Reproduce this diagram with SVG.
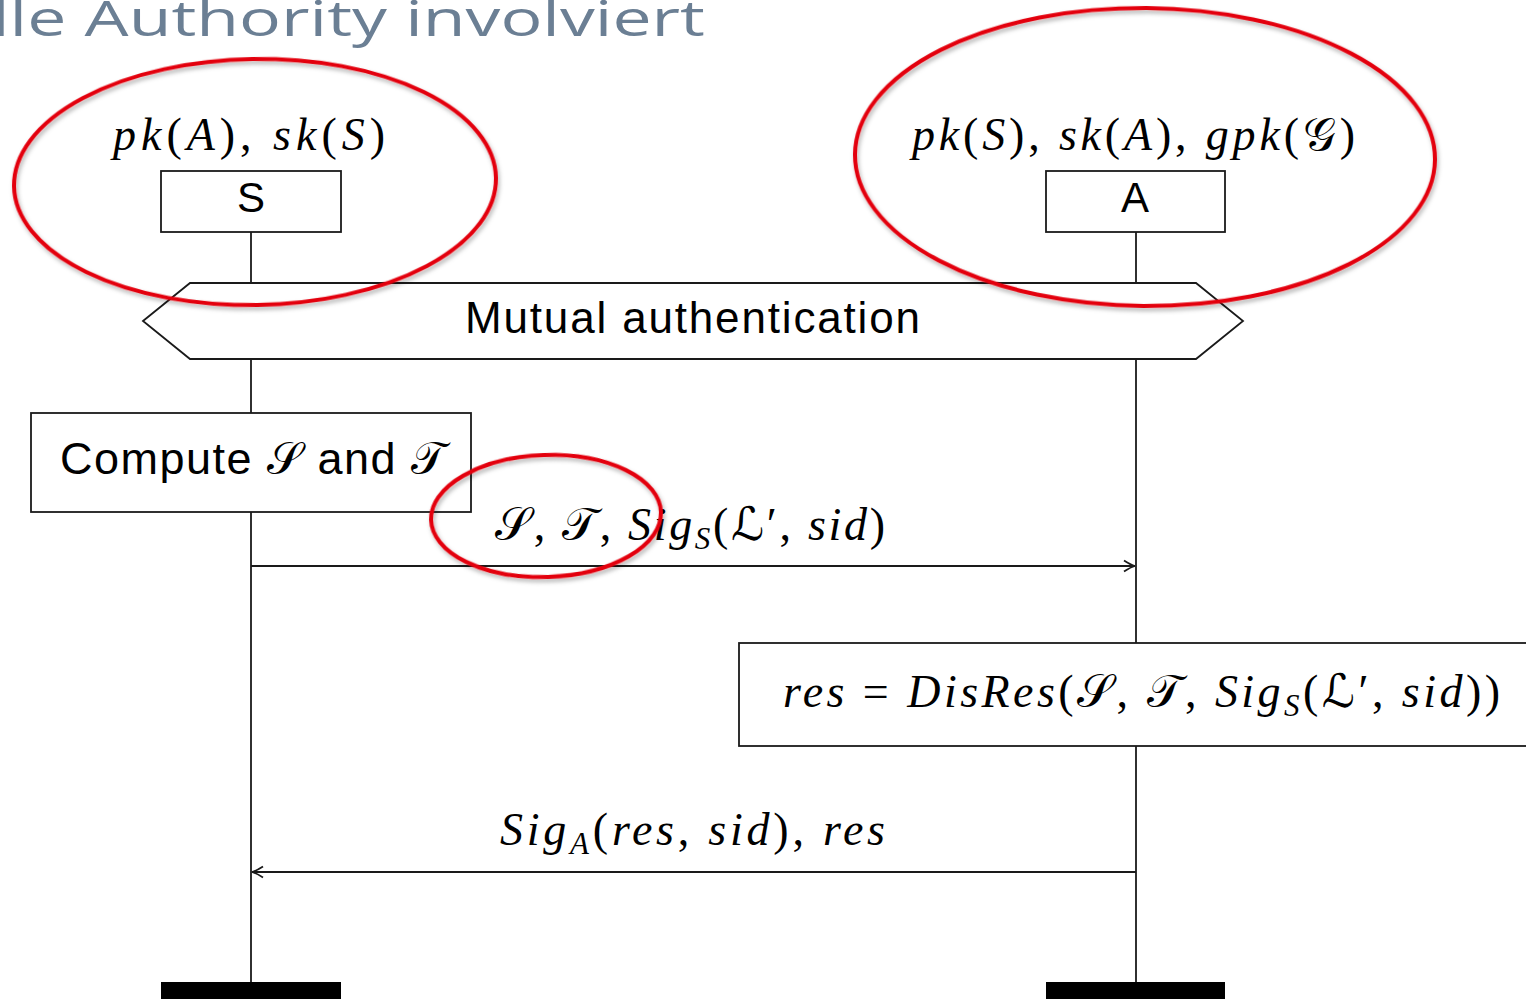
<svg xmlns="http://www.w3.org/2000/svg" width="1526" height="999" viewBox="0 0 1526 999">
  <style>
    .title { font-family: "Open Sans", "Liberation Sans", sans-serif; font-weight: 400; font-size: 50px; fill: #6b7f94; }
    .sf { font-family: "Liberation Sans", "DejaVu Sans", sans-serif; fill: #000; }
    .m { font-family: "Liberation Serif", "DejaVu Serif", serif; font-style: italic; font-size: 46px; fill: #000; }
    .up { font-style: normal; }
    .cal { font-family: "DejaVu Serif", "DejaVu Sans", "Noto Sans", serif; font-style: normal; }
    .sub { font-size: 31px; }
    .box { fill: #fff; stroke: #1a1a1a; stroke-width: 1.8; }
    .life { stroke: #1a1a1a; stroke-width: 1.8; fill: none; }
    .msg { stroke: #1a1a1a; stroke-width: 1.8; fill: none; marker-end: url(#to); }
    .mark { fill: none; stroke: #e3000f; stroke-width: 4; filter: url(#shade); }
  </style>
  <defs>
    <marker id="to" viewBox="-12 -7 14 14" refX="0" refY="0" markerWidth="14" markerHeight="14" markerUnits="userSpaceOnUse" orient="auto">
      <path d="M-11,-5.5 Q-4,-1 0,0 Q-4,1 -11,5.5" fill="none" stroke="#1a1a1a" stroke-width="1.8"/>
    </marker>
    <filter id="shade" x="-10%" y="-10%" width="120%" height="125%">
      <feDropShadow dx="1.5" dy="3" stdDeviation="2" flood-color="#000" flood-opacity="0.3"/>
    </filter>
  </defs>

  <rect width="1526" height="999" fill="#fff"/>

  <!-- slide heading, clipped at the left edge -->
  <text class="title" x="-8" y="36" textLength="713" lengthAdjust="spacingAndGlyphs">lle Authority involviert</text>

  <!-- lifelines and messages -->
  <g id="connectors">
    <line class="life" x1="251" y1="232" x2="251" y2="983"/>
    <line class="life" x1="1136" y1="232" x2="1136" y2="983"/>
    <line class="msg" x1="251" y1="566" x2="1135" y2="566"/>
    <line class="msg" x1="1136" y1="872" x2="252" y2="872"/>
  </g>

  <!-- participant S -->
  <g id="node-S">
    <text class="m" x="113" y="150" textLength="272">pk<tspan class="up">(</tspan>A<tspan class="up">), </tspan>sk<tspan class="up">(</tspan>S<tspan class="up">)</tspan></text>
    <rect class="box" x="161" y="171" width="180" height="61"/>
    <text class="sf" x="251" y="212" font-size="42" text-anchor="middle">S</text>
    <rect x="161" y="982" width="180" height="20" fill="#000"/>
  </g>

  <!-- participant A -->
  <g id="node-A">
    <text class="m" x="912" y="150" textLength="443">pk<tspan class="up">(</tspan>S<tspan class="up">), </tspan>sk<tspan class="up">(</tspan>A<tspan class="up">), </tspan>gpk<tspan class="up">(</tspan><tspan class="cal">𝒢</tspan><tspan class="up">)</tspan></text>
    <rect class="box" x="1046" y="171" width="179" height="61"/>
    <text class="sf" x="1135" y="212" font-size="42" text-anchor="middle">A</text>
    <rect x="1046" y="982" width="179" height="20" fill="#000"/>
  </g>

  <!-- shared step -->
  <g id="node-mutual">
    <polygon class="box" points="143,321 190,283 1196,283 1243,321 1196,359 190,359"/>
    <text class="sf" x="465" y="333" font-size="44" textLength="455">Mutual authentication</text>
  </g>

  <!-- local action at S -->
  <g id="node-compute">
    <rect class="box" x="31" y="413" width="440" height="99"/>
    <text class="sf" x="60" y="474" font-size="45" textLength="385">Compute <tspan class="cal" font-style="italic">𝒮</tspan> and <tspan class="cal" font-style="italic">𝒯</tspan></text>
  </g>

  <!-- message S to A -->
  <g id="label-msg1">
    <text class="m" x="495" y="540" textLength="390"><tspan class="cal">𝒮</tspan><tspan class="up">, </tspan><tspan class="cal">𝒯</tspan><tspan class="up">, </tspan>Sig<tspan class="sub" dy="9">S</tspan><tspan class="up" dy="-9">(</tspan><tspan class="cal">ℒ</tspan><tspan class="up">′, </tspan>sid<tspan class="up">)</tspan></text>
  </g>

  <!-- local action at A -->
  <g id="node-disres">
    <rect class="box" x="739" y="643" width="800" height="103"/>
    <text class="m" x="783" y="707" textLength="717">res <tspan class="up">= </tspan>DisRes<tspan class="up">(</tspan><tspan class="cal">𝒮</tspan><tspan class="up">, </tspan><tspan class="cal">𝒯</tspan><tspan class="up">, </tspan>Sig<tspan class="sub" dy="9">S</tspan><tspan class="up" dy="-9">(</tspan><tspan class="cal">ℒ</tspan><tspan class="up">′, </tspan>sid<tspan class="up">))</tspan></text>
  </g>

  <!-- message A to S -->
  <g id="label-msg2">
    <text class="m" x="500" y="845" textLength="385">Sig<tspan class="sub" dy="9">A</tspan><tspan class="up" dy="-9">(</tspan>res<tspan class="up">, </tspan>sid<tspan class="up">), </tspan>res</text>
  </g>

  <!-- hand-drawn highlights -->
  <g id="highlights">
    <ellipse class="mark" cx="255" cy="182" rx="241" ry="123" transform="rotate(-1 255 182)"/>
    <ellipse class="mark" cx="1145" cy="157" rx="290" ry="149" transform="rotate(0.5 1145 157)"/>
    <ellipse class="mark" cx="546" cy="516" rx="115" ry="61" transform="rotate(-2 546 516)"/>
  </g>
</svg>
